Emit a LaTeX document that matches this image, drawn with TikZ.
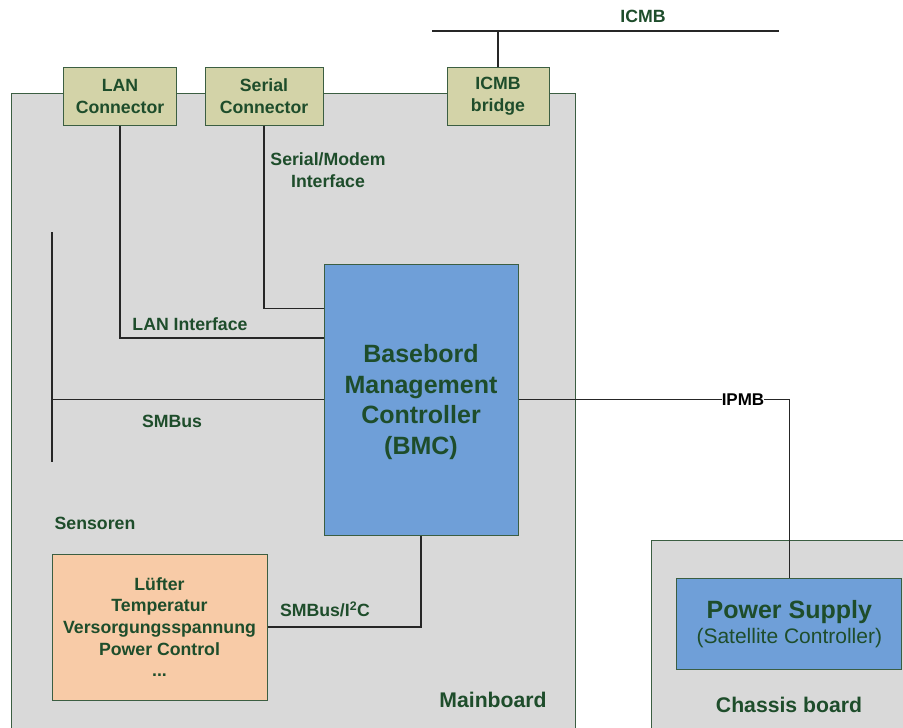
\documentclass[tikz,border=0pt]{standalone}
\usepackage{fontspec}
\setmainfont{Liberation Sans}
\definecolor{txt}{HTML}{1E4D2B}
\definecolor{board}{HTML}{D9D9D9}
\definecolor{edge}{HTML}{3B5E42}
\definecolor{khaki}{HTML}{D3D3A8}
\definecolor{chip}{HTML}{6F9FD8}
\definecolor{peach}{HTML}{F8CBA7}
\definecolor{wire}{HTML}{262626}
\begin{document}
\begin{tikzpicture}[x=1pt,y=-1pt,
  boardbox/.style={draw=edge,fill=board,line width=1pt,inner sep=0,anchor=north west},
  connbox/.style={draw=edge,fill=khaki,line width=1pt,inner sep=0,minimum height=58,
     align=center,text=txt,font=\fontsize{17.7}{22}\selectfont\bfseries},
  chipbox/.style={draw=edge,fill=chip,line width=1pt,inner sep=0,align=center,text=txt},
  sensbox/.style={draw=edge,fill=peach,line width=1pt,inner sep=0,align=center,text=txt,
     font=\fontsize{17.7}{21.7}\selectfont\bfseries},
  lbl/.style={text=txt,align=center,inner sep=0,font=\fontsize{17.7}{22}\selectfont\bfseries},
  biglbl/.style={text=txt,inner sep=0,font=\fontsize{21.2}{25}\selectfont\bfseries},
  wireline/.style={draw=wire,line width=1.1pt}]
\clip (0,0) rectangle (903,728);
\fill[white] (0,0) rectangle (903,728);

% boards
\node[boardbox,minimum width=564,minimum height=660] (main) at (11,93) {};
\node[boardbox,minimum width=270,minimum height=210] (chassis) at (651,540) {};

% connectors on the board edge
\node[connbox,minimum width=113] (lan) at (120,96) {LAN\\Connector};
\node[connbox,minimum width=118] (ser) at (264,96) {Serial\\Connector};
\node[connbox,minimum width=102] (icmb) at (498,96) {ICMB\\bridge};

% controllers
\node[chipbox,minimum width=194,minimum height=271,
      label={[text=txt,align=center,inner sep=0,yshift=-2.5pt,
              font=\fontsize{25}{30.5}\selectfont\bfseries]center:
              Basebord\\Management\\Controller\\(BMC)}] (bmc) at (421,399.5) {};
\node[sensbox,minimum width=215,minimum height=146] (sens) at (159.5,627)
      {Lüfter\\Temperatur\\Versorgungsspannung\\Power Control\\...};
\node[chipbox,minimum width=225,minimum height=91] (psu) at (789.3,624)
      {{\fontsize{25}{29}\selectfont\bfseries Power Supply}\\[3pt]
       {\fontsize{21}{25}\selectfont (Satellite Controller)}};

% bus end points
\coordinate (icmbL) at (432,31);
\coordinate (icmbR) at (779,31);
\coordinate (serY) at (0,308.5);
\coordinate (lanY) at (0,338);
\coordinate (smbT) at (52,232);
\coordinate (smbB) at (52,462);

% ICMB bus
\draw[wireline] (icmbL) -- (icmbR);
\draw[wireline] (icmb.north) -- (icmb.north |- icmbL);
\node[lbl] (icmblbl) at (643,16) {ICMB};

% interfaces to the BMC
\draw[wireline] (ser.south) |- (bmc.west |- serY);
\draw[wireline] (lan.south) |- (bmc.west |- lanY);
\draw[wireline] (smbT) -- (smbB);
\draw[wireline] (bmc.west) -- (bmc.west -| smbT);
\draw[wireline] (sens.east) -| (bmc.south);

% IPMB to the power supply
\node[inner sep=0,text=black,font=\fontsize{17}{20}\selectfont\bfseries] (ipmb) at (743,399.5) {IPMB};
\draw[wireline] (bmc.east) -- (ipmb.west);
\draw[wireline] (ipmb.east) -| (psu.north);

% labels
\node[lbl] (serlbl) at (328,170.5) {Serial/Modem\\Interface};
\node[lbl] (lanlbl) at (190,324) {LAN Interface};
\node[lbl] (smblbl) at (172,421) {SMBus};
\node[lbl] (senslbl) at (95,523) {Sensoren};
\node[lbl] (i2clbl) at (325,609) {SMBus/I\textsuperscript{2}C};
\node[biglbl] (mainlbl) at (493,700) {Mainboard};
\node[biglbl] (chlbl) at (789,705) {Chassis board};
\end{tikzpicture}
\end{document}
